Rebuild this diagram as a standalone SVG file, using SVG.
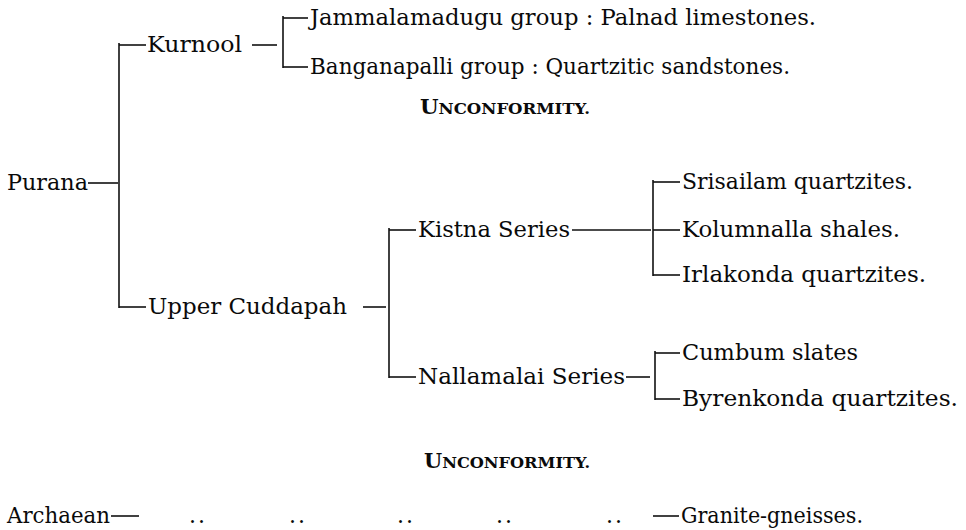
<svg xmlns="http://www.w3.org/2000/svg" width="966" height="530" viewBox="0 0 966 530">
<style>
text{font-family:"DejaVu Serif","Liberation Serif",serif;font-size:22.5px;fill:#0a0a0a}
.sc{font-weight:bold;font-size:20px}
.sc tspan.s{font-size:15.5px}
.dots{font-size:22px;letter-spacing:2px}
.c line{stroke:#111;stroke-width:1.6;fill:none}
</style>
<rect width="966" height="530" fill="#fff"/>
<g class="c" id="connectors">
<line x1="88" y1="183" x2="118" y2="183"/>
<line x1="119" y1="43" x2="119" y2="308"/>
<line x1="119" y1="45" x2="146" y2="45"/>
<line x1="119" y1="307" x2="146" y2="307"/>
<line x1="252" y1="45" x2="277" y2="45"/>
<line x1="283" y1="16" x2="283" y2="68"/>
<line x1="283" y1="18" x2="308" y2="18"/>
<line x1="283" y1="67" x2="308" y2="67"/>
<line x1="363" y1="307" x2="386" y2="307"/>
<line x1="389" y1="228" x2="389" y2="378"/>
<line x1="389" y1="230" x2="416" y2="230"/>
<line x1="389" y1="377" x2="416" y2="377"/>
<line x1="572" y1="230" x2="651" y2="230"/>
<line x1="653" y1="180" x2="653" y2="276"/>
<line x1="653" y1="182" x2="680" y2="182"/>
<line x1="653" y1="230" x2="680" y2="230"/>
<line x1="653" y1="275" x2="680" y2="275"/>
<line x1="626" y1="377" x2="650" y2="377"/>
<line x1="655" y1="351" x2="655" y2="400"/>
<line x1="655" y1="353" x2="680" y2="353"/>
<line x1="655" y1="399" x2="680" y2="399"/>
<line x1="111" y1="516" x2="139" y2="516"/>
<line x1="653" y1="516" x2="679" y2="516"/>
</g>
<g id="n-purana"><text x="7" y="190" textLength="81" lengthAdjust="spacingAndGlyphs">Purana</text></g>
<g id="n-kurnool"><text x="147" y="52" textLength="95" lengthAdjust="spacingAndGlyphs">Kurnool</text></g>
<g id="n-jammalamadugu"><text x="310" y="25" textLength="506" lengthAdjust="spacingAndGlyphs">Jammalamadugu group : Palnad limestones.</text></g>
<g id="n-banganapalli"><text x="310" y="74" textLength="480" lengthAdjust="spacingAndGlyphs">Banganapalli group : Quartzitic sandstones.</text></g>
<g id="n-unconformity1"><text class="sc" x="420" y="114" textLength="170" lengthAdjust="spacingAndGlyphs">U<tspan class="s">NCONFORMITY.</tspan></text></g>
<g id="n-uppercuddapah"><text x="148" y="314" textLength="199" lengthAdjust="spacingAndGlyphs">Upper Cuddapah</text></g>
<g id="n-kistna"><text x="418" y="237" textLength="152" lengthAdjust="spacingAndGlyphs">Kistna Series</text></g>
<g id="n-srisailam"><text x="682" y="189" textLength="231" lengthAdjust="spacingAndGlyphs">Srisailam quartzites.</text></g>
<g id="n-kolumnalla"><text x="682" y="237" textLength="218" lengthAdjust="spacingAndGlyphs">Kolumnalla shales.</text></g>
<g id="n-irlakonda"><text x="682" y="282" textLength="244" lengthAdjust="spacingAndGlyphs">Irlakonda quartzites.</text></g>
<g id="n-nallamalai"><text x="418" y="384" textLength="207" lengthAdjust="spacingAndGlyphs">Nallamalai Series</text></g>
<g id="n-cumbum"><text x="682" y="360" textLength="176" lengthAdjust="spacingAndGlyphs">Cumbum slates</text></g>
<g id="n-byrenkonda"><text x="682" y="406" textLength="276" lengthAdjust="spacingAndGlyphs">Byrenkonda quartzites.</text></g>
<g id="n-unconformity2"><text class="sc" x="424" y="468" textLength="166" lengthAdjust="spacingAndGlyphs">U<tspan class="s">NCONFORMITY.</tspan></text></g>
<g id="n-archaean"><text x="7" y="523" textLength="103" lengthAdjust="spacingAndGlyphs">Archaean</text></g>
<g id="n-dots">
<text class="dots" x="189" y="523">..</text>
<text class="dots" x="289" y="523">..</text>
<text class="dots" x="397" y="523">..</text>
<text class="dots" x="496" y="523">..</text>
<text class="dots" x="606" y="523">..</text>
</g>
<g id="n-granite"><text x="681" y="523" textLength="182" lengthAdjust="spacingAndGlyphs">Granite-gneisses.</text></g>
</svg>
